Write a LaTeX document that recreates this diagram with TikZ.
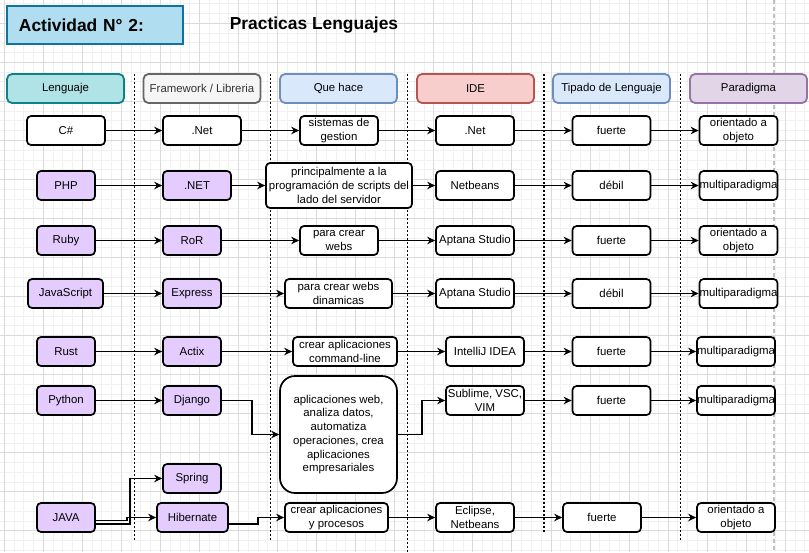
\documentclass[tikz,border=0pt]{standalone}
\usepackage{fontspec}
\setmainfont{Liberation Sans}
\usepackage{tikz}
\usetikzlibrary{calc}
\usetikzlibrary{arrows.meta}
\definecolor{gridminor}{RGB}{241,241,241}
\definecolor{gridmajor}{RGB}{218,218,218}
\definecolor{skyfill}{RGB}{177,221,240}
\definecolor{skyline}{RGB}{16,115,158}
\definecolor{tealfill}{RGB}{176,227,230}
\definecolor{tealline}{RGB}{14,128,136}
\definecolor{greyfill}{RGB}{245,245,245}
\definecolor{greyline}{RGB}{102,102,102}
\definecolor{greytext}{RGB}{51,51,51}
\definecolor{bluefill}{RGB}{218,232,252}
\definecolor{blueline}{RGB}{108,142,191}
\definecolor{redfill}{RGB}{248,206,204}
\definecolor{redline}{RGB}{184,84,80}
\definecolor{mauvefill}{RGB}{225,213,231}
\definecolor{mauveline}{RGB}{150,115,166}
\definecolor{lilac}{RGB}{229,204,255}
\definecolor{guide}{RGB}{192,192,192}
\newcommand{\cellfont}{\fontsize{11.4}{13.7}\selectfont}
\newcommand{\titlefont}{\fontsize{17.4}{20}\selectfont\bfseries}
\tikzset{
  cell/.style={draw=black, fill=white, line width=1.7pt, rounded corners=4pt, align=center,
               inner sep=0pt, minimum height=29pt, font=\cellfont},
  lang/.style={cell, fill=lilac},
  header/.style={line width=1.8pt, rounded corners=5pt, minimum width=117pt, minimum height=29pt,
                 font=\cellfont},
  link/.style={line width=1.7pt, -{Stealth[length=8pt,width=7.5pt]}},
  divider/.style={line width=1.4pt, dash pattern=on 2pt off 2pt},
}
\begin{document}
\begin{tikzpicture}[x=1pt,y=-1pt]
        \useasboundingbox (0,0) rectangle (809,552);
        \fill[white] (0,0) rectangle (809,552);
        % background grid
        \foreach \k in {0,...,82} \draw[gridminor, line width=1pt] ({4.3+9.7625*\k},0) -- ++(0,552);
        \foreach \k in {0,...,56} \draw[gridminor, line width=1pt] (0,{3.8+9.7625*\k}) -- ++(809,0);
        \foreach \k in {0,...,20} \draw[gridmajor, line width=1pt] ({4.3+39.05*\k},0) -- ++(0,552);
        \foreach \k in {0,...,13} \draw[gridmajor, line width=1pt] (0,{23.3+39.05*\k}) -- ++(809,0);
        % column separators
        \foreach \x/\b in {134.5/540, 270.5/540, 407.5/552, 544/532, 680.5/542}
            \draw[divider] (\x,74) -- (\x,\b);
        \draw[guide, line width=1.5pt, dash pattern=on 4pt off 3pt] (774,0) -- (774,552);

        % title
        \node[draw=skyline, fill=skyfill, line width=1.8pt, text width=152pt, inner xsep=12pt,
              minimum height=38pt, align=left, font=\titlefont] (actividad) at (95,25) {Actividad N° 2:};
        \node[font=\titlefont] (practicas) at (314,25) {Practicas Lenguajes};

        % headers
        \node[header, draw=tealline,  fill=tealfill]                 (hlenguaje)  at (65.5,88.5)  {Lenguaje};
        \node[header, draw=greyline,  fill=greyfill, text=greytext]  (hframework) at (202,88.5)   {Framework / Libreria};
        \node[header, draw=blueline,  fill=bluefill]                 (hquehace)   at (338.5,88.5) {Que hace};
        \node[header, draw=redline,   fill=redfill]                  (hide)       at (475.5,88.5) {IDE};
        \node[header, draw=blueline,  fill=bluefill]                 (htipado)    at (611.5,88.5) {Tipado de Lenguaje};
        \node[header, draw=mauveline, fill=mauvefill]                (hparadigma) at (748.5,88.5) {Paradigma};

        % C#
        \node[cell, minimum width=78pt]  (csharp) at (66,130.5)    {C\#};
        \node[cell, minimum width=78pt]  (fw1)    at (202,130.5)   {.Net};
        \node[cell, minimum width=78pt]  (qh1)    at (339,130.5)   {sistemas de\\gestion};
        \node[cell, minimum width=78pt]  (ide1)   at (475,130.5)   {.Net};
        \node[cell, minimum width=78pt]  (tip1)   at (611.5,130.5) {fuerte};
        \node[cell, minimum width=78pt]  (par1)   at (738.5,130.5) {orientado a\\objeto};
        % PHP
        \node[lang, minimum width=58pt]  (php)    at (66,185.5)    {PHP};
        \node[lang, minimum width=68pt]  (fw2)    at (197,185.5)   {.NET};
        \node[cell, minimum width=146pt, minimum height=45pt] (qh2) at (339,185.5)
             {principalmente a la\\programación de scripts del\\lado del servidor};
        \node[cell, minimum width=78pt]  (ide2)   at (475,185.5)   {Netbeans};
        \node[cell, minimum width=78pt]  (tip2)   at (611.5,185.5) {débil};
        \node[cell, minimum width=78pt]  (par2)   at (738.5,185.5) {multiparadigma};
        % Ruby
        \node[lang, minimum width=58pt]  (ruby)   at (66,240.5)    {Ruby};
        \node[lang, minimum width=58pt]  (fw3)    at (192,240.5)   {RoR};
        \node[cell, minimum width=78pt]  (qh3)    at (339,240.5)   {para crear\\webs};
        \node[cell, minimum width=78pt]  (ide3)   at (475,240.5)   {Aptana Studio};
        \node[cell, minimum width=78pt]  (tip3)   at (611.5,240.5) {fuerte};
        \node[cell, minimum width=78pt]  (par3)   at (738.5,240.5) {orientado a\\objeto};
        % JavaScript
        \node[lang, minimum width=75pt]  (js)     at (65.5,293.5)  {JavaScript};
        \node[lang, minimum width=58pt]  (fw4)    at (192,293.5)   {Express};
        \node[cell, minimum width=107pt] (qh4)    at (338.5,293.5) {para crear webs\\dinamicas};
        \node[cell, minimum width=78pt]  (ide4)   at (475,293.5)   {Aptana Studio};
        \node[cell, minimum width=78pt]  (tip4)   at (611.5,293.5) {débil};
        \node[cell, minimum width=78pt]  (par4)   at (738.5,293.5) {multiparadigma};
        % Rust
        \node[lang, minimum width=58pt]  (rust)   at (66,351.5)    {Rust};
        \node[lang, minimum width=58pt]  (fw5)    at (192,351.5)   {Actix};
        \node[cell, minimum width=104pt] (qh5)    at (345,351.5)   {crear aplicaciones\\command-line};
        \node[cell, minimum width=78pt]  (ide5)   at (485,351.5)   {IntelliJ IDEA};
        \node[cell, minimum width=78pt]  (tip5)   at (611.5,351.5) {fuerte};
        \node[cell, minimum width=78pt]  (par5)   at (736,351.5)   {multiparadigma};
        % Python
        \node[lang, minimum width=58pt]  (python) at (66,400.5)    {Python};
        \node[lang, minimum width=58pt]  (fw6)    at (192,400.5)   {Django};
        \node[cell, rounded corners=15pt, minimum width=117pt, minimum height=117pt] (qh6) at (338.5,434.5)
             {aplicaciones web,\\analiza datos,\\automatiza\\operaciones, crea\\aplicaciones\\empresariales};
        \node[cell, minimum width=78pt]  (ide6)   at (485,400.5)   {Sublime, VSC,\\VIM};
        \node[cell, minimum width=78pt]  (tip6)   at (611.5,400.5) {fuerte};
        \node[cell, minimum width=78pt]  (par6)   at (736,400.5)   {multiparadigma};
        % JAVA
        \node[lang, minimum width=58pt]  (spring) at (192,478.5)   {Spring};
        \node[lang, minimum width=58pt]  (java)   at (66,517.5)    {JAVA};
        \node[lang, minimum width=71pt]  (fw7)    at (192.5,517.5) {Hibernate};
        \node[cell, minimum width=103pt] (qh7)    at (336.5,517.5) {crear aplicaciones\\y procesos};
        \node[cell, minimum width=78pt]  (ide7)   at (475,517.5)   {Eclipse,\\Netbeans};
        \node[cell, minimum width=78pt]  (tip7)   at (602,517.5)   {fuerte};
        \node[cell, minimum width=78pt]  (par7)   at (736,517.5)   {orientado a\\objeto};

        % straight links
        \foreach \a/\b in {csharp/fw1, fw1/qh1, qh1/ide1, ide1/tip1, tip1/par1,
                           php/fw2, fw2/qh2, qh2/ide2, ide2/tip2, tip2/par2,
                           ruby/fw3, fw3/qh3, qh3/ide3, ide3/tip3, tip3/par3,
                           js/fw4, fw4/qh4, qh4/ide4, ide4/tip4, tip4/par4,
                           rust/fw5, fw5/qh5, qh5/ide5, ide5/tip5, tip5/par5,
                           python/fw6, ide6/tip6, tip6/par6,
                           qh7/ide7, ide7/tip7, tip7/par7}
            \draw[link] (\a.east) -- (\b.west);
        % elbow links
        \draw[link] (fw6.east) -- ++(30,0) |- (qh6.west);
        \draw[link] (qh6.east) -- ++(24,0) |- (ide6.west);
        \draw[link] ([yshift=-6.5pt]java.east) -- ++(34,0) |- (spring.west);
        \draw[link] ([yshift=-3pt]java.east) -- ++(31,0) |- (fw7.west);
        \draw[link] ([yshift=-6.5pt]fw7.east) -- ++(29,0) |- (qh7.west);
\end{tikzpicture}
\end{document}
